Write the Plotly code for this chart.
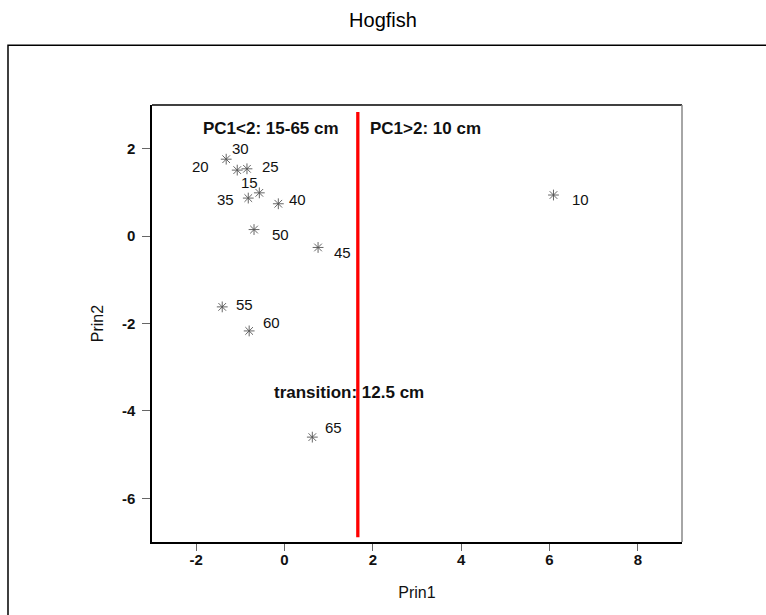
import plotly.graph_objects as go

# Data
labels = ["10", "15", "20", "25", "30", "35", "40", "45", "50", "55", "60", "65"]
prin1 = [6.09, -0.57, -1.32, -0.85, -1.07, -0.82, -0.14, 0.76, -0.69, -1.41, -0.80, 0.63]
prin2 = [0.94, 0.99, 1.76, 1.54, 1.51, 0.87, 0.74, -0.26, 0.15, -1.62, -2.17, -4.60]

# label offsets (pixels) to mimic the reference label placement
label_dx = {"10": 27, "15": -10, "20": -26, "25": 24, "30": 3, "35": -23,
            "40": 19, "45": 24, "50": 26, "55": 22, "60": 22, "65": 21}
label_dy = {"10": -4, "15": 10, "20": -7, "25": 2, "30": 22, "35": -1,
            "40": 4, "45": -5, "50": -5, "55": 2, "60": 8, "65": 10}

split_x = 1.66
split_y = [-6.89, 2.84]

x_range = [-3, 9]
y_range = [-7, 3]
x_ticks = [-2, 0, 2, 4, 6, 8]
y_ticks = [-6, -4, -2, 0, 2]

FONT = "Liberation Sans, Arial, sans-serif"

fig = go.Figure()
fig.add_trace(go.Scatter(
    x=[split_x, split_x], y=split_y, mode="lines",
    line=dict(color="#ff0000", width=3.3), hoverinfo="skip", showlegend=False))
fig.add_trace(go.Scatter(
    x=prin1, y=prin2, mode="markers", text=labels,
    marker=dict(symbol="asterisk-open", size=9, color="#555555",
                line=dict(color="#555555", width=0.9)),
    showlegend=False))

annotations = []
for lab, xv, yv in zip(labels, prin1, prin2):
    annotations.append(dict(x=xv, y=yv, text=lab, showarrow=False,
                            xshift=label_dx[lab], yshift=label_dy[lab],
                            font=dict(family=FONT, size=15, color="#111111")))

annotations += [
    dict(x=-0.30, y=2.47, text="<b>PC1&lt;2: 15-65 cm</b>", showarrow=False,
         xanchor="center", yanchor="middle", font=dict(family=FONT, size=17, color="#111111")),
    dict(x=1.89, y=2.47, text="<b>PC1&gt;2: 10 cm</b>", showarrow=False,
         xanchor="left", yanchor="middle", font=dict(family=FONT, size=17, color="#111111")),
    dict(x=-0.28, y=-3.59, text="<b>transition: 12.5 cm</b>", showarrow=False,
         xanchor="left", yanchor="middle", font=dict(family=FONT, size=17, color="#111111")),
]

shapes = [
    # outer frame (extends beyond the window on right and bottom)
    dict(type="rect", xref="paper", yref="paper", x0=-0.2717, x1=1.2, y0=-0.25, y1=1.137,
         line=dict(color="#000000", width=1.5), layer="below"),
    # top border of plot area
    dict(type="line", xref="paper", yref="paper", x0=0, x1=1, y0=1, y1=1,
         line=dict(color="#000000", width=1.5)),
    # right border of plot area (grey)
    dict(type="line", xref="paper", yref="paper", x0=1, x1=1, y0=0, y1=1,
         line=dict(color="#888888", width=1.5)),
]

fig.update_layout(
    width=766, height=615,
    margin=dict(l=152, r=84, t=105, b=73),
    paper_bgcolor="white", plot_bgcolor="white",
    title=dict(text="Hogfish", x=0.5, xanchor="center", y=1 - 20 / 615, yanchor="middle",
               font=dict(family=FONT, size=20, color="#000000")),
    xaxis=dict(range=x_range, tickvals=x_ticks, ticktext=[str(t) for t in x_ticks],
               showgrid=False, zeroline=False, showline=True, linecolor="#000000", linewidth=1.5,
               ticks="outside", ticklen=7, tickcolor="#666666", tickwidth=1,
               ticklabelstandoff=-4,
               tickfont=dict(family=FONT, size=15, color="#111111", weight="bold"),
               title=dict(text="Prin1", font=dict(family=FONT, size=16, color="#111111"), standoff=20)),
    yaxis=dict(range=y_range, tickvals=y_ticks, ticktext=[str(t) for t in y_ticks],
               showgrid=False, zeroline=False, showline=True, linecolor="#000000", linewidth=1.5,
               ticks="outside", ticklen=8, tickcolor="#666666", tickwidth=1,
               ticklabelstandoff=4,
               tickfont=dict(family=FONT, size=15, color="#111111", weight="bold"),
               title=dict(text="Prin2", font=dict(family=FONT, size=16, color="#111111"), standoff=14)),
    annotations=annotations,
    shapes=shapes,
)

fig.write_html("out.html")
